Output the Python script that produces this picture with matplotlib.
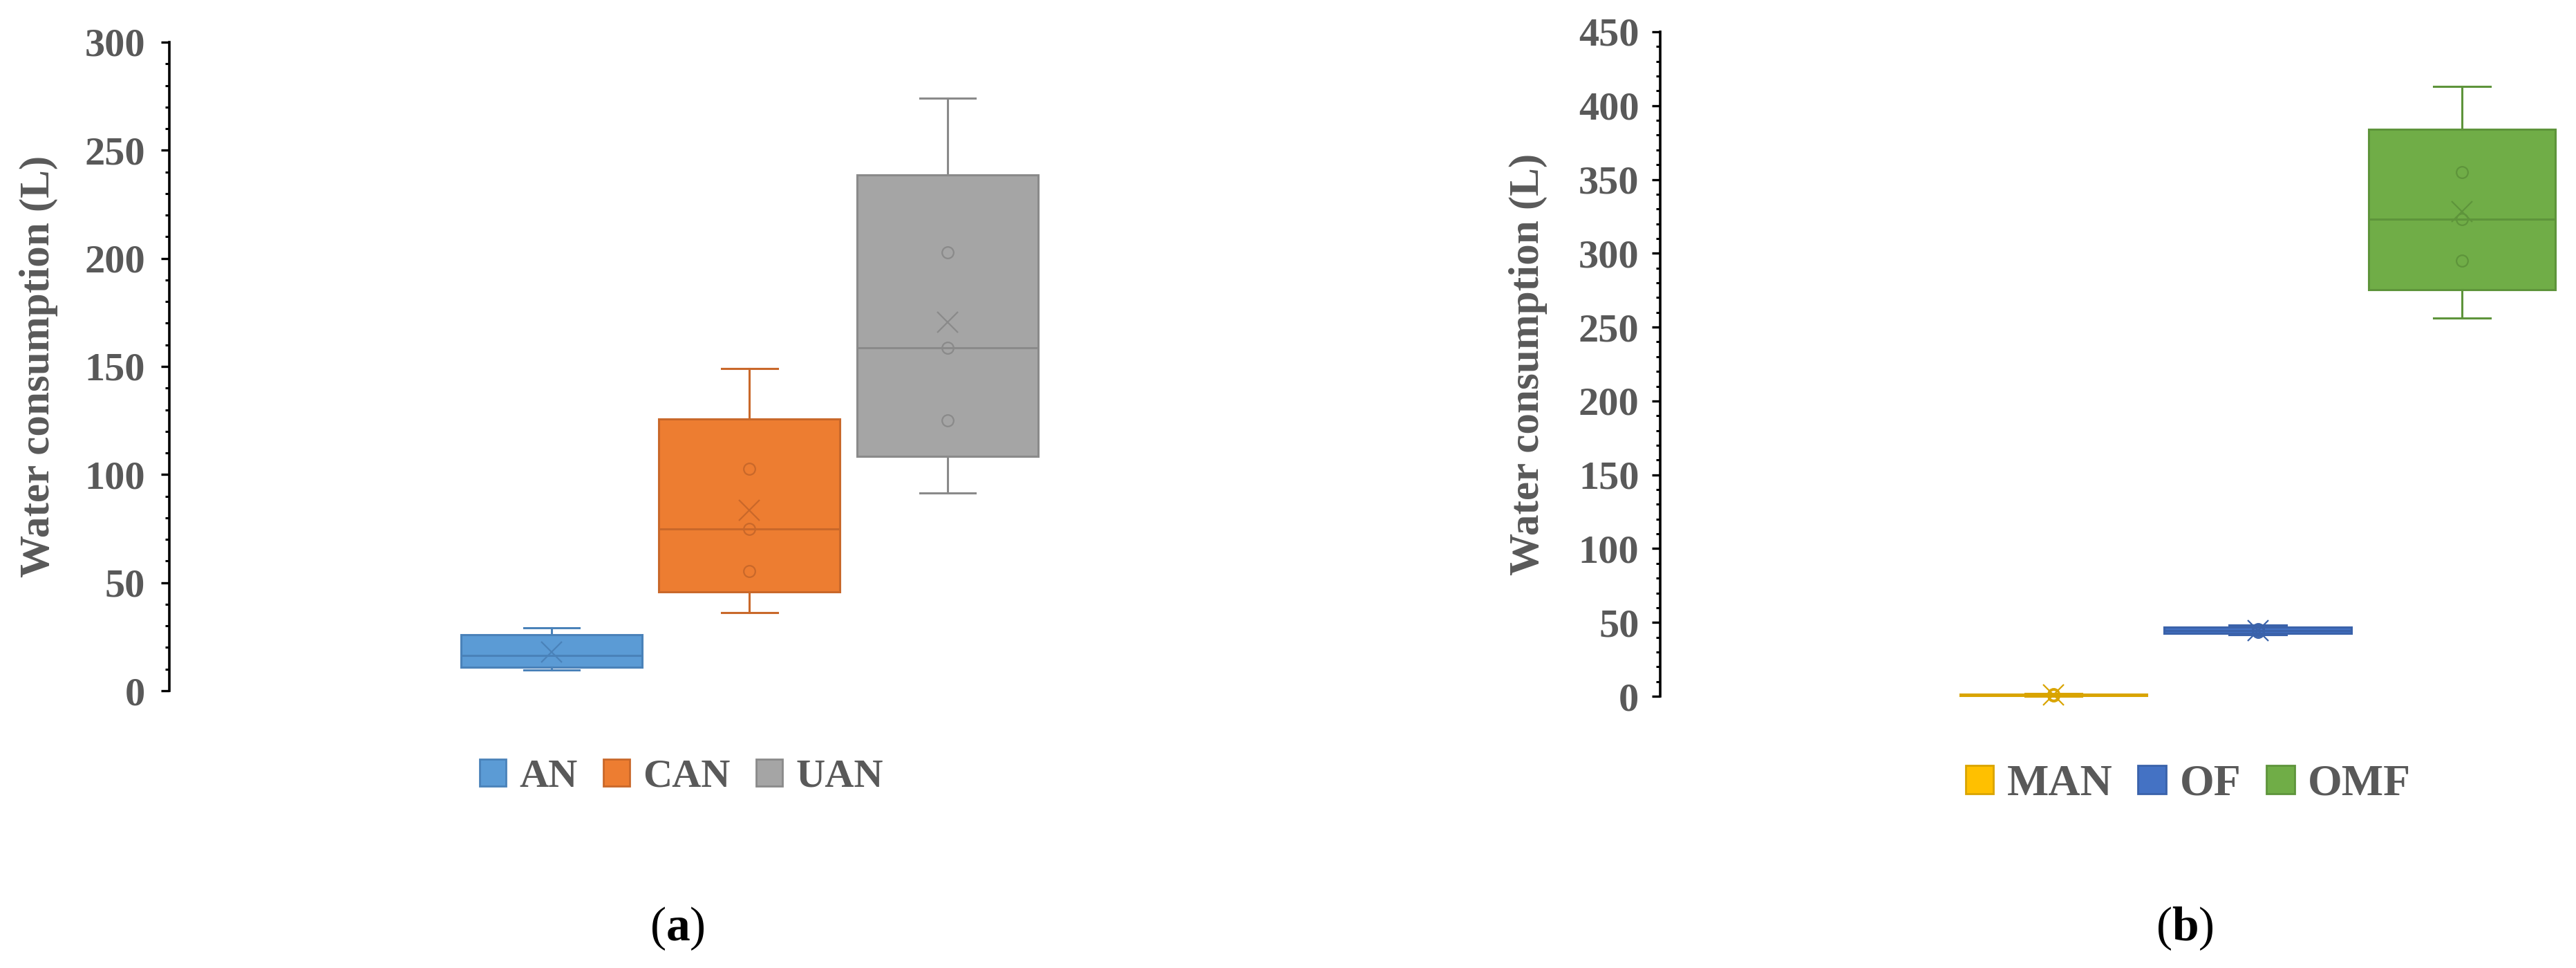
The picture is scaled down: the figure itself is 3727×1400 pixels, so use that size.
import numpy as np
import matplotlib.pyplot as plt
from matplotlib.patches import Patch
from matplotlib.ticker import MultipleLocator

plt.rcParams['font.family'] = ['Liberation Serif', 'DejaVu Serif']
plt.rcParams['mathtext.fontset'] = 'custom'
plt.rcParams['mathtext.rm'] = 'Liberation Serif'
plt.rcParams['mathtext.bf'] = 'Liberation Serif:bold'

# (a) water consumption per fertiliser, litres
labels_a = ["AN", "CAN", "UAN"]
an = [9.6, 12.2, 16.3, 22.7, 29.1]
can = [36.3, 55.2, 74.7, 102.7, 148.9]
uan = [91.5, 125.1, 158.7, 202.9, 274.2]

# (b)
labels_b = ["MAN", "OF", "OMF"]
man = [0.2, 0.4, 0.9, 1.2, 1.8]
of = [41.5, 43.7, 44.5, 45.3, 48.3]
omf = [256, 295, 323, 355, 413]

fills_a = ["#5B9BD5", "#ED7D31", "#A5A5A5"]
edges_a = ["#4A82B9", "#C9682A", "#8A8A8A"]
fills_b = ["#FFC000", "#4472C4", "#70AD47"]
edges_b = ["#D9A400", "#3A62AA", "#5E943B"]

GREY = "#595959"


def excel_stats(vals):
    # Excel box & whisker uses exclusive quartiles
    v = np.sort(np.asarray(vals, float))
    q1, med, q3 = np.percentile(v, [25, 50, 75], method="weibull")
    return dict(whislo=v.min(), q1=q1, med=med, q3=q3, whishi=v.max(),
                mean=v.mean(), fliers=[])


def draw_panel(ax, series, fills, edges, inner, ymax, xlim):
    pos = [1, 2, 3]
    stats = [excel_stats(s) for s in series]
    bp = ax.bxp(stats, positions=pos, widths=0.915, capwidths=0.28,
                patch_artist=True, showmeans=True, showfliers=False,
                manage_ticks=False)
    for i in range(3):
        bp['boxes'][i].set(facecolor=fills[i], edgecolor=edges[i], linewidth=2.2, clip_on=False)
        for ln in bp['whiskers'][2 * i:2 * i + 2] + bp['caps'][2 * i:2 * i + 2]:
            ln.set(color=edges[i], linewidth=2.2, clip_on=False)
        bp['medians'][i].set(color=edges[i], linewidth=2.2, clip_on=False)
        bp['means'][i].set(marker='x', markersize=21, markeredgewidth=1.6,
                           markeredgecolor=edges[i], markerfacecolor='none',
                           clip_on=False, zorder=4)
        if inner[i]:
            v = np.sort(series[i])[1:-1]
            ax.plot([pos[i]] * len(v), v, 'o', ms=12, mfc='none', mec=edges[i],
                    mew=1.6, clip_on=False, zorder=4)

    ax.set_xlim(*xlim)
    ax.set_ylim(0, ymax)
    ax.yaxis.set_major_locator(MultipleLocator(50))
    ax.yaxis.set_minor_locator(MultipleLocator(10))
    for s in ['top', 'right', 'bottom']:
        ax.spines[s].set_visible(False)
    ax.spines['left'].set_linewidth(2.6)
    ax.set_xticks([])
    ax.tick_params(axis='y', which='major', direction='out', length=9, width=2.4,
                   labelsize=42, labelcolor=GREY)
    ax.tick_params(axis='y', which='minor', direction='out', length=4.5, width=2.2)
    for t in ax.get_yticklabels():
        t.set_fontweight('bold')
    ax.set_ylabel("Water consumption (L)", fontsize=44, fontweight='bold',
                  color=GREY, va='center')


fig = plt.figure(figsize=(37.27, 14), dpi=100)

ax1 = fig.add_axes([245 / 3727, 1 - 999 / 1400, 1680 / 3727, 938 / 1400])
draw_panel(ax1, [an, can, uan], fills_a, edges_a, [False, True, True], 300, (-0.930, 4.934))
ax1.tick_params(axis='y', which='major', pad=16)
ax1.yaxis.set_label_coords(-0.1125, 0.5)

ax2 = fig.add_axes([2402 / 3727, 1 - 1007 / 1400, 1325 / 3727, 961 / 1400])
draw_panel(ax2, [man, of, omf], fills_b, edges_b, [True, True, True], 450, (-0.926, 3.558))
ax2.tick_params(axis='y', which='major', pad=13)
ax2.yaxis.set_label_coords(-0.1442, 0.5)

h_a = [Patch(facecolor=f, edgecolor=e, linewidth=2) for f, e in zip(fills_a, edges_a)]
fig.legend(h_a, labels_a, loc='center', bbox_to_anchor=(986 / 3727, 1 - 1124 / 1400),
           ncol=3, frameon=False, handlelength=0.65, handleheight=0.65,
           handletextpad=0.34, columnspacing=0.63, labelcolor=GREY,
           prop={'size': 42, 'weight': 'bold'})

h_b = [Patch(facecolor=f, edgecolor=e, linewidth=2) for f, e in zip(fills_b, edges_b)]
fig.legend(h_b, labels_b, loc='center', bbox_to_anchor=(3166 / 3727, 1 - 1135 / 1400),
           ncol=3, frameon=False, handlelength=0.63, handleheight=0.63,
           handletextpad=0.31, columnspacing=0.58, labelcolor=GREY,
           prop={'size': 46, 'weight': 'bold'})

fig.text(980 / 3727, 1 - 1343 / 1400, r"($\mathbf{a}$)", fontsize=50, ha='center', va='center')
fig.text(3161 / 3727, 1 - 1343 / 1400, r"($\mathbf{b}$)", fontsize=50, ha='center', va='center')

fig.savefig("out.png", dpi=100)
